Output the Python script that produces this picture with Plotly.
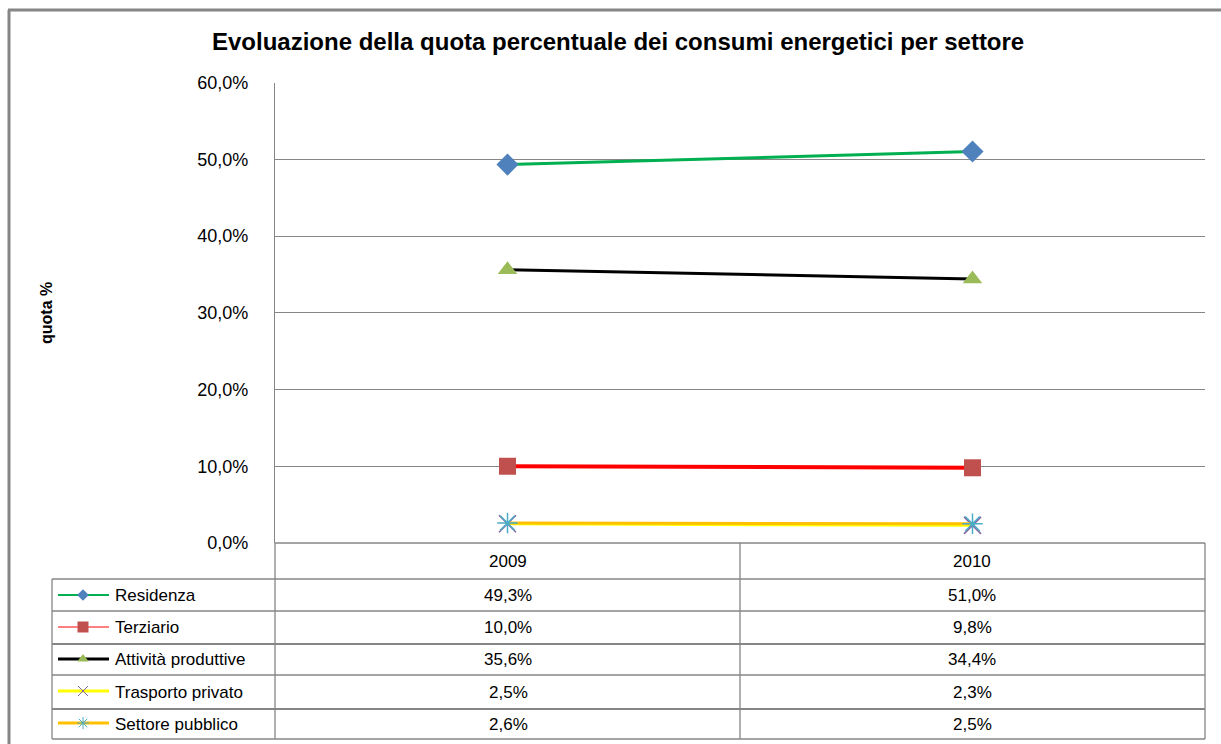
import plotly.graph_objects as go

# data
anni = ['2009', '2010']
settori = ['Residenza', 'Terziario', 'Attività produttive', 'Trasporto privato', 'Settore pubblico']
residenza = [49.3, 51.0]
terziario = [10.0, 9.8]
attivita = [35.6, 34.4]
trasporto = [2.5, 2.3]
pubblico = [2.6, 2.5]
valori = [residenza, terziario, attivita, trasporto, pubblico]

# styles per series: line color, line width, marker symbol, marker color, marker size
stili = [
    dict(lc='#00B050', lw=3, sym='diamond', mc='#4F81BD', ms=17),
    dict(lc='#FF0000', lw=4, sym='square', mc='#C0504D', ms=17),
    dict(lc='#000000', lw=3, sym='triangle-up', mc='#9BBB59', ms=17),
    dict(lc='#FFFF00', lw=3, sym='x-thin-open', mc='#8064A2', ms=17),
    dict(lc='#FFC000', lw=3, sym='asterisk-open', mc='#4BACC6', ms=17),
]

W, H = 1221, 744
px = lambda x: x / W
py = lambda y: 1 - y / H
FONT = 'Liberation Sans, Arial, sans-serif'
GRID = '#868686'
FS = 17

fig = go.Figure()

for nome, v, s in zip(settori, valori, stili):
    marker = dict(symbol=s['sym'], size=s['ms'], color=s['mc'])
    if 'open' in s['sym']:
        marker['line'] = dict(color=s['mc'], width=1.5)
    fig.add_trace(go.Scatter(
        x=anni, y=[a / 100 for a in v], name=nome, mode='lines+markers',
        line=dict(color=s['lc'], width=s['lw']), marker=marker, showlegend=False))

# legend keys inside the data table
key_lw = [2, 1, 3, 3, 3]
key_ms = [9, 11, 10, 10, 10]
for i, (nome, s) in enumerate(zip(settori, stili)):
    fig.add_trace(go.Scatter(
        x=[6, 57], y=[i, i], mode='lines', line=dict(color=s['lc'], width=key_lw[i]),
        xaxis='x2', yaxis='y2', showlegend=False, hoverinfo='skip'))
    marker = dict(symbol=s['sym'], size=key_ms[i], color=s['mc'])
    if 'open' in s['sym']:
        marker['line'] = dict(color=s['mc'], width=1)
    fig.add_trace(go.Scatter(
        x=[31], y=[i], mode='markers', marker=marker,
        xaxis='x2', yaxis='y2', showlegend=False, hoverinfo='skip'))

shapes = []
def hline(x0, x1, y, w=1.3):
    shapes.append(dict(type='line', xref='paper', yref='paper', x0=px(x0), x1=px(x1),
                       y0=py(y), y1=py(y), line=dict(color=GRID, width=w)))
def vline(x, y0, y1, w=1.3):
    shapes.append(dict(type='line', xref='paper', yref='paper', x0=px(x), x1=px(x),
                       y0=py(y0), y1=py(y1), line=dict(color=GRID, width=w)))

# outer frame
vline(9, 10, 760, 3)
hline(8, 1230, 10, 3)

# table grid
row_y = [579, 611, 644, 675, 709, 739]
row_w = [1.3, 1.3, 2.2, 1.3, 2.2, 1.3]
hline(275, 1205, 543)
for y, w in zip(row_y, row_w):
    hline(52, 1205, y, w)
vline(52, 579, 739)
vline(275, 543, 739)
vline(740, 543, 739)
vline(1205, 543, 739)

def testo(x, y, t, size=FS, xa='center', angle=0):
    return dict(x=px(x), y=py(y), xref='paper', yref='paper', text=t, textangle=angle,
                xanchor=xa, yanchor='middle', showarrow=False,
                font=dict(size=size, color='black', family=FONT))

annotations = []
col_x = [508, 972]
for a, x in zip(anni, col_x):
    annotations.append(testo(x, 561, a))
for i, (nome, v) in enumerate(zip(settori, valori)):
    yc = (row_y[i] + row_y[i + 1]) / 2
    annotations.append(testo(113, yc, nome, xa='left'))
    for val, x in zip(v, col_x):
        annotations.append(testo(x, yc, f'{val:.1f}%'.replace('.', ',')))

annotations.append(testo(618, 42, '<b>Evoluazione della quota percentuale dei consumi energetici per settore</b>', size=24))
annotations.append(testo(47, 313, '<b>quota %</b>', size=16, angle=-90))

fig.update_layout(
    width=W, height=H, margin=dict(l=0, r=0, t=0, b=0, pad=0, autoexpand=False),
    paper_bgcolor='white', plot_bgcolor='white', separators=',.',
    font=dict(family=FONT, size=FS, color='black'),
    xaxis=dict(domain=[px(275), px(1205)], type='category', range=[-0.5, 1.5],
               showticklabels=False, showgrid=False, zeroline=False, showline=False,
               automargin=False),
    yaxis=dict(domain=[py(543), py(82.5)], range=[0, 0.6], dtick=0.1, tickformat='.1%',
               showgrid=True, gridcolor=GRID, gridwidth=1.3, zeroline=False,
               showline=True, linecolor=GRID, linewidth=1.3, ticks='', ticklabelstandoff=22,
               tickfont=dict(size=18, color='black', family=FONT), automargin=False),
    xaxis2=dict(domain=[px(52), px(275)], range=[0, 223], visible=False, anchor='y2'),
    yaxis2=dict(domain=[py(739), py(579)], range=[4.5, -0.5], visible=False, anchor='x2'),
    shapes=shapes, annotations=annotations,
)

fig.write_html('out.html', config={'displayModeBar': False},
               post_script="document.body.style.margin='0';document.body.style.overflow='hidden';")
